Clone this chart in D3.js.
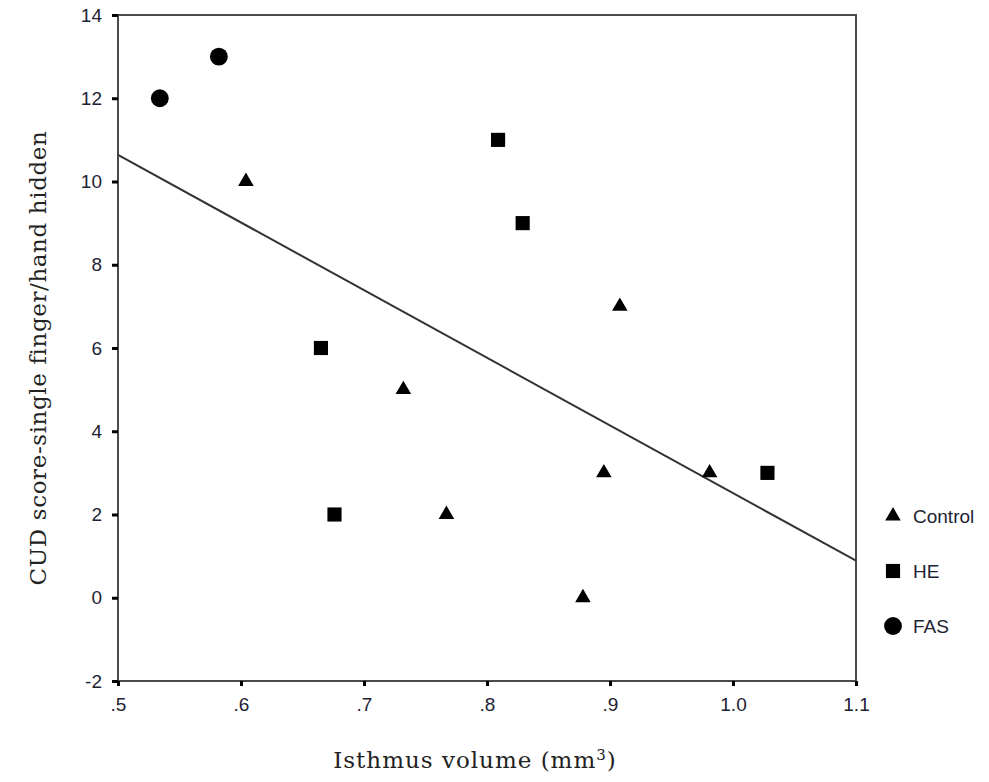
<!doctype html>
<html lang="en">
<head>
<meta charset="utf-8">
<title>CUD score vs isthmus volume</title>
<script src="https://cdn.jsdelivr.net/npm/d3@7"></script>
<style>
  body { margin: 0; background: #fff; }
  .tick text { font-family: "Liberation Sans", Arial, sans-serif; font-size: 19px; fill: #222233; }
  .axis-title { font-family: "DejaVu Serif", "Liberation Serif", serif; fill: #222; }
  .legend text { font-family: "Liberation Sans", Arial, sans-serif; font-size: 19px; fill: #222233; }
</style>
</head>
<body>
<svg width="989" height="782"></svg>
<script>
// groups
var groups = ["Control", "HE", "FAS"];

var controlX = [0.604, 0.732, 0.767, 0.878, 0.895, 0.908, 0.981];
var controlY = [10, 5, 2, 0, 3, 7, 3];

var heX = [0.665, 0.676, 0.809, 0.829, 1.028];
var heY = [6, 2, 11, 9, 3];

var fasX = [0.534, 0.582];
var fasY = [12, 13];

// fitted line, value at each end of the x axis
var fitX = [0.5, 1.1];
var fitY = [10.64, 0.89];

var xTicks = [0.5, 0.6, 0.7, 0.8, 0.9, 1.0, 1.1];
var yTicks = [-2, 0, 2, 4, 6, 8, 10, 12, 14];

var margin = {left: 118, top: 15, right: 133, bottom: 101};
var svg = d3.select("svg");
var width = 989 - margin.left - margin.right;
var height = 782 - margin.top - margin.bottom;

var g = svg.append("g")
    .attr("transform", "translate(" + margin.left + "," + margin.top + ")");

var x = d3.scaleLinear().domain([0.5, 1.1]).range([0, width]);
var y = d3.scaleLinear().domain([-2, 14]).range([height, 0]);

var xFmt = function(d) {
    var s = d3.format(".1f")(d);
    return d < 1 ? s.replace(/^0/, "") : s;
};
var yFmt = function(d) { return String(d); };  // plain hyphen for -2

// frame
g.append("rect")
    .attr("width", width)
    .attr("height", height)
    .attr("fill", "none")
    .attr("stroke", "#4a4a4a")
    .attr("stroke-width", 2);

var xAxis = g.append("g")
    .attr("transform", "translate(0," + height + ")")
    .call(d3.axisBottom(x).tickValues(xTicks).tickFormat(xFmt).tickSize(5).tickPadding(12));

var yAxis = g.append("g")
    .call(d3.axisLeft(y).tickValues(yTicks).tickFormat(yFmt).tickSize(6).tickPadding(10));

[xAxis, yAxis].forEach(function(a) {
    a.select(".domain").remove();
    a.selectAll(".tick line").attr("stroke", "#000").attr("stroke-width", 3);
});

// regression line
g.append("line")
    .attr("x1", x(fitX[0])).attr("y1", y(fitY[0]))
    .attr("x2", x(fitX[1])).attr("y2", y(fitY[1]))
    .attr("stroke", "#333")
    .attr("stroke-width", 2);

var shapes = {
    "Control": d3.symbol().type(d3.symbolTriangle).size(105),
    "HE": d3.symbol().type(d3.symbolSquare).size(200),
    "FAS": d3.symbol().type(d3.symbolCircle).size(250)
};

var series = [
    {name: "Control", xs: controlX, ys: controlY},
    {name: "HE", xs: heX, ys: heY},
    {name: "FAS", xs: fasX, ys: fasY}
];

series.forEach(function(s) {
    g.append("g").selectAll("path")
        .data(s.xs.map(function(v, i) { return [v, s.ys[i]]; }))
        .enter().append("path")
        .attr("transform", function(d) { return "translate(" + x(d[0]) + "," + y(d[1]) + ")"; })
        .attr("d", shapes[s.name])
        .attr("fill", "#000");
});

// legend
var legend = svg.append("g")
    .attr("class", "legend")
    .selectAll("g")
    .data(groups)
    .enter().append("g")
    .attr("transform", function(d, i) { return "translate(893," + (516 + i * 55) + ")"; });

legend.append("path")
    .attr("d", function(d) { return shapes[d](); })
    .attr("fill", "#000");

legend.append("text")
    .attr("x", 20)
    .attr("dy", "0.36em")
    .text(function(d) { return d; });

// axis titles
var xt = svg.append("text")
    .attr("class", "axis-title")
    .attr("x", 475)
    .attr("y", 768)
    .attr("text-anchor", "middle")
    .style("font-size", "23px")
    .style("letter-spacing", "1px");
xt.append("tspan").text("Isthmus volume (mm");
xt.append("tspan").attr("dy", "-8").style("font-size", "15px").text("3");
xt.append("tspan").attr("dy", "8").text(")");

svg.append("text")
    .attr("class", "axis-title")
    .attr("transform", "translate(46,358) rotate(-90)")
    .attr("text-anchor", "middle")
    .style("font-size", "23px")
    .style("letter-spacing", "0.6px")
    .text("CUD score-single finger/hand hidden");
</script>
</body>
</html>
